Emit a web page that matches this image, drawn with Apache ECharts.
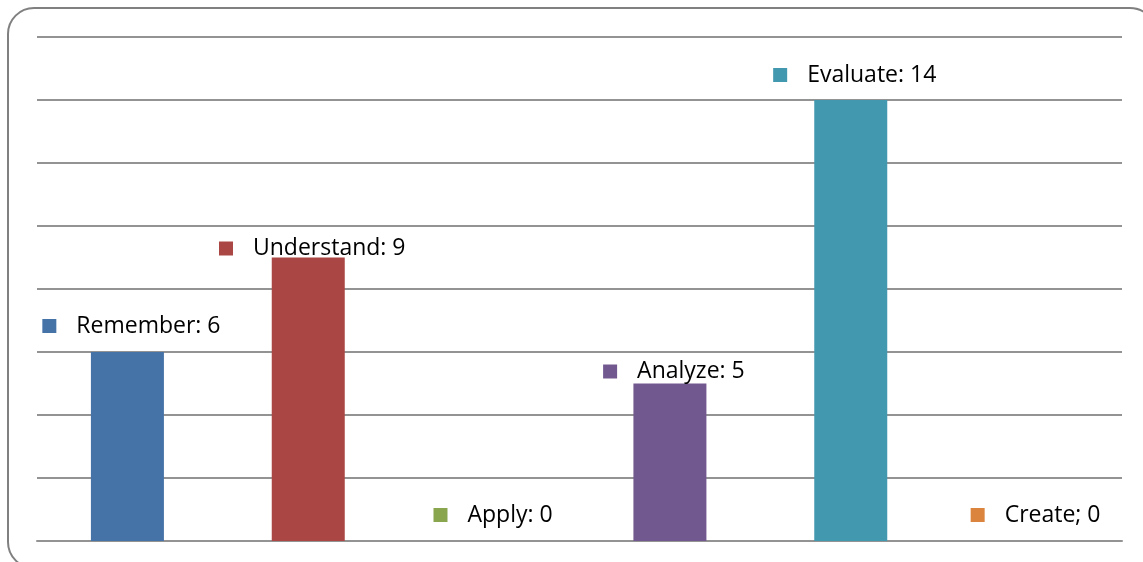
<!DOCTYPE html>
<html>
<head>
<meta charset="utf-8">
<script src="https://cdn.jsdelivr.net/npm/echarts@6/dist/echarts.min.js"></script>
<style>
  html, body { margin: 0; padding: 0; background: #fff; }
  #chart { width: 1143px; height: 562px; }
</style>
</head>
<body>
<div id="chart"></div>
<script>
const categories = ['Remember', 'Understand', 'Apply', 'Analyze', 'Evaluate', 'Create']
const values = [6, 9, 0, 5, 14, 0]
const separators = [':', ':', ':', ':', ':', ';']
const colors = ['#4572a7', '#aa4643', '#89a54e', '#71588f', '#4198af', '#db843d']
// label gap above bar top (Excel placed two of them lower)
const labelGaps = [14, -3, 14, 0, 13, 14]

const chart = echarts.init(document.getElementById('chart'))

const option = {
  animation: false,
  grid: { left: 37, right: 21, top: 37, bottom: 21 },
  graphic: [{
    type: 'rect',
    shape: { x: 8, y: 8, width: 1148, height: 560, r: 26 },
    style: { fill: 'none', stroke: '#808080', lineWidth: 2 },
    silent: true
  }],
  xAxis: {
    type: 'category',
    data: categories,
    axisLine: { lineStyle: { color: '#939393', width: 2 } },
    axisTick: { show: false },
    axisLabel: { show: false }
  },
  yAxis: {
    type: 'value',
    min: 0,
    max: 16,
    interval: 2,
    axisLabel: { show: false },
    axisLine: { show: false },
    splitLine: { lineStyle: { color: '#939393', width: 2 } }
  },
  series: [{
    type: 'bar',
    barWidth: 73,
    data: values.map((v, i) => ({
      value: v,
      itemStyle: { color: colors[i] },
      label: {
        distance: labelGaps[i],
        rich: {
          sq: { width: 14, height: 14, backgroundColor: colors[i] },
          t: { fontFamily: 'Open Sans', fontSize: 23, color: '#000', padding: [0, 0, 0, 20], lineHeight: 24 }
        }
      }
    })),
    label: {
      show: true,
      position: 'top',
      offset: [4, 0],
      formatter: (p) => `{sq|}{t|${p.name}${separators[p.dataIndex]} ${p.value}}`
    }
  }]
}

chart.setOption(option)
</script>
</body>
</html>
